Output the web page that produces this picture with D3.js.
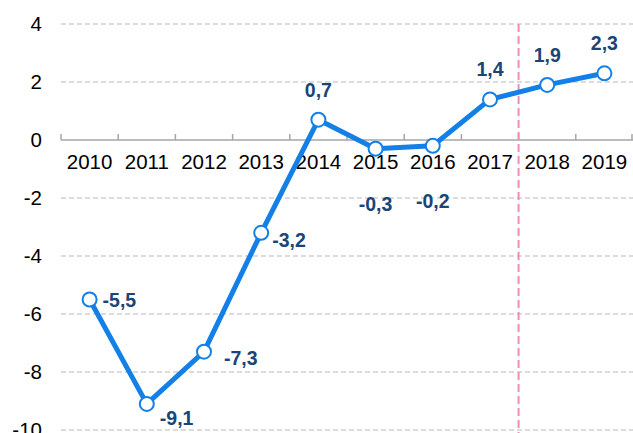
<!DOCTYPE html>
<html>
<head>
<meta charset="utf-8">
<script src="https://cdn.jsdelivr.net/npm/d3@7"></script>
<style>
  body { margin: 0; background: #fff; }
  text { font-family: "Liberation Sans", Arial, sans-serif; }
</style>
</head>
<body>
<svg width="633" height="433"></svg>
<script>
// The data
const years = ["2010", "2011", "2012", "2013", "2014", "2015", "2016", "2017", "2018", "2019"];
const values = [-5.5, -9.1, -7.3, -3.2, 0.7, -0.3, -0.2, 1.4, 1.9, 2.3];
// where each value label sits relative to its point
const labelPos = ["right", "belowRight", "right2", "right3", "above", "below", "below", "above", "above", "above"];
const yTicks = [4, 2, 0, -2, -4, -6, -8, -10];

const svg = d3.select("svg"),
  width = +svg.attr("width"),
  height = +svg.attr("height");

const margin = { left: 61, right: 0, top: 24 };

// Scales
const x = d3.scaleBand()
  .domain(years)
  .range([margin.left, width - margin.right]);

const y = d3.scaleLinear()
  .domain([-10, 4])
  .range([430, margin.top]);

const fmt = v => String(v).replace(".", ",");

// Grid lines (dashed) except zero
svg.append("g")
  .selectAll("line")
  .data(yTicks.filter(d => d !== 0))
  .join("line")
  .attr("x1", margin.left)
  .attr("x2", width)
  .attr("y1", d => y(d))
  .attr("y2", d => y(d))
  .attr("stroke", "#d0d0d0")
  .attr("stroke-width", 1.3)
  .attr("stroke-dasharray", "5,3");

// Y labels
svg.append("g")
  .selectAll("text")
  .data(yTicks)
  .join("text")
  .attr("x", 42)
  .attr("y", d => y(d))
  .attr("dy", "0.36em")
  .attr("text-anchor", "end")
  .attr("font-size", 20.5)
  .attr("fill", "#000")
  .text(d => d);

// Zero axis with ticks pointing up
const xAxis = svg.append("g")
  .attr("transform", `translate(0,${y(0)})`);
xAxis.append("line")
  .attr("x1", margin.left)
  .attr("x2", width)
  .attr("stroke", "#a6a6a6")
  .attr("stroke-width", 1.5);
xAxis.selectAll(null)
  .data(years.map(d => x(d)).concat([width - 1]))
  .join("line")
  .attr("x1", d => d)
  .attr("x2", d => d)
  .attr("y1", 0)
  .attr("y2", -6)
  .attr("stroke", "#a6a6a6")
  .attr("stroke-width", 1.5);

// Year labels
svg.append("g")
  .selectAll("text")
  .data(years)
  .join("text")
  .attr("x", d => x(d) + x.bandwidth() / 2)
  .attr("y", y(0) + 22)
  .attr("dy", "0.36em")
  .attr("text-anchor", "middle")
  .attr("font-size", 20.5)
  .attr("fill", "#000")
  .text(d => d);

// Forecast divider
const divX = x("2018");
svg.append("line")
  .attr("x1", divX)
  .attr("x2", divX)
  .attr("y1", margin.top)
  .attr("y2", height)
  .attr("stroke", "#f08cb8")
  .attr("stroke-width", 2)
  .attr("stroke-dasharray", "8,4");

// Line
const cx = d => x(d) + x.bandwidth() / 2;
const line = d3.line()
  .x((d, i) => cx(years[i]))
  .y(d => y(d));

svg.append("path")
  .datum(values)
  .attr("d", line)
  .attr("fill", "none")
  .attr("stroke", "#1380e8")
  .attr("stroke-width", 5)
  .attr("stroke-linejoin", "round");

// Markers
svg.append("g")
  .selectAll("circle")
  .data(values)
  .join("circle")
  .attr("cx", (d, i) => cx(years[i]))
  .attr("cy", d => y(d))
  .attr("r", 7)
  .attr("fill", "#fff")
  .attr("stroke", "#1380e8")
  .attr("stroke-width", 2);

// Value labels
const offsets = {
  right: [13, 0, "start"],
  belowRight: [13, 14, "start"],
  right2: [20, 6, "start"],
  right3: [11, 7, "start"],
  above: [0, -30, "middle"],
  below: [0, 55, "middle"]
};
svg.append("g")
  .selectAll("text")
  .data(values)
  .join("text")
  .attr("x", (d, i) => cx(years[i]) + offsets[labelPos[i]][0])
  .attr("y", (d, i) => y(d) + offsets[labelPos[i]][1])
  .attr("dy", "0.36em")
  .attr("text-anchor", (d, i) => offsets[labelPos[i]][2])
  .attr("font-size", 19.5)
  .attr("font-weight", "bold")
  .attr("fill", "#1a4577")
  .text(d => fmt(d));
</script>
</body>
</html>
